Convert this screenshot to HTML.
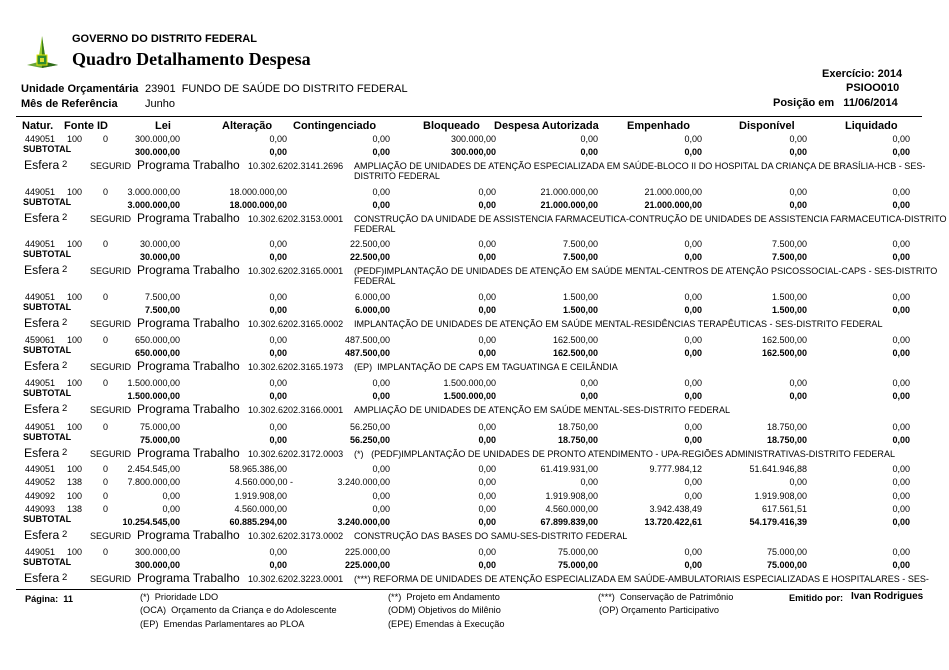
<!DOCTYPE html>
<html><head><meta charset="utf-8"><style>
body{margin:0;background:#fff;}
#p{position:relative;width:949px;height:670px;overflow:hidden;font-family:"Liberation Sans",Arial,sans-serif;color:#000;}
#p div{position:absolute;white-space:nowrap;}
.r{left:0;width:949px;height:13px;font-size:9px;line-height:12px;}
.r span{position:absolute;top:0;}
.b{font-weight:bold;}
.c1{left:80px;width:100px;text-align:right}
.c2{left:187px;width:100px;text-align:right}
.c3{left:290px;width:100px;text-align:right}
.c4{left:396px;width:100px;text-align:right}
.c5{left:498px;width:100px;text-align:right}
.c6{left:602px;width:100px;text-align:right}
.c7{left:707px;width:100px;text-align:right}
.c8{left:810px;width:100px;text-align:right}
.na{left:25px}.fo{left:67px}.id{left:103px}
.st{left:23px;top:-3px !important;font-weight:bold}
.e{left:0;width:949px;height:26px;font-size:9px;line-height:11px;}
.e span{position:absolute;}
.e .l1{left:24px;top:-1px;font-size:12.2px;line-height:15px;}
.e .l2{left:62px;top:0;font-size:9.5px;}
.e .l3{left:90px;top:2px;}
.e .l4{left:137px;top:-1px;font-size:12px;line-height:15px;}
.e .l5{left:248px;top:2px;}
.e .l6{left:354px;top:2px;font-size:9.05px;}
.e .l7{left:354px;top:12px;}
.h{font-size:11px;font-weight:bold;line-height:13px;}
.f{font-size:9.2px;line-height:12px;}
</style></head><body><div id="p">
<svg style="position:absolute;left:24px;top:34px" width="40" height="40" viewBox="0 0 40 40">
<polygon points="18,2 14,28 22,28" fill="#9acd32"/>
<polygon points="18,2 18,28 22,28" fill="#3a7d1a"/>
<polygon points="3,31 18,27 34,31 18,34" fill="#6aa53a"/>
<polygon points="18,27 34,31 18,34" fill="#2f6b1a"/>
<rect x="13" y="21" width="10" height="10" fill="#2e8b2e" stroke="#e6e600" stroke-width="1"/>
<rect x="16" y="24" width="4" height="4" fill="#dddd33"/>
</svg>
<div class="b" style="left:72px;top:33px;font-size:11px;">GOVERNO DO DISTRITO FEDERAL</div>
<div class="b" style="left:72px;top:49px;font-size:18px;font-family:'Liberation Serif',serif;">Quadro Detalhamento Despesa</div>
<div class="b" style="left:822px;top:68px;font-size:11px;">Exercício: 2014</div>
<div class="b" style="left:846px;top:82px;font-size:11px;">PSIOO010</div>
<div class="b" style="left:21px;top:83px;font-size:11px;">Unidade Orçamentária</div>
<div style="left:145px;top:83px;font-size:11px;">23901&nbsp; FUNDO DE SAÚDE DO DISTRITO FEDERAL</div>
<div class="b" style="left:21px;top:98px;font-size:11px;">Mês de Referência</div>
<div class="b" style="left:145px;top:98px;font-size:11px;font-weight:normal">Junho</div>
<div class="b" style="left:773px;top:97px;font-size:11px;">Posição em &nbsp; 11/06/2014</div>
<div style="left:16px;top:116px;width:906px;height:1px;border-top:1.5px solid #000;"></div>
<div class="h" style="left:22px;top:120px;">Natur.</div>
<div class="h" style="left:64px;top:120px;">Fonte</div>
<div class="h" style="left:97px;top:120px;">ID</div>
<div class="h" style="left:155px;top:120px;">Lei</div>
<div class="h" style="left:222px;top:120px;">Alteração</div>
<div class="h" style="left:293px;top:120px;">Contingenciado</div>
<div class="h" style="left:423px;top:120px;">Bloqueado</div>
<div class="h" style="left:494px;top:120px;">Despesa Autorizada</div>
<div class="h" style="left:627px;top:120px;">Empenhado</div>
<div class="h" style="left:739px;top:120px;">Disponível</div>
<div class="h" style="left:845px;top:120px;">Liquidado</div>

<div class="r" style="top:133px"><span class="na">449051</span><span class="fo">100</span><span class="id">0</span><span class="c1">300.000,00</span><span class="c2">0,00</span><span class="c3">0,00</span><span class="c4">300.000,00</span><span class="c5">0,00</span><span class="c6">0,00</span><span class="c7">0,00</span><span class="c8">0,00</span></div>
<div class="r b" style="top:146px"><span class="st">SUBTOTAL</span><span class="c1">300.000,00</span><span class="c2">0,00</span><span class="c3">0,00</span><span class="c4">300.000,00</span><span class="c5">0,00</span><span class="c6">0,00</span><span class="c7">0,00</span><span class="c8">0,00</span></div>
<div class="e" style="top:159px"><span class="l1">Esfera</span><span class="l2">2</span><span class="l3">SEGURID</span><span class="l4">Programa Trabalho</span><span class="l5">10.302.6202.3141.2696</span><span class="l6">AMPLIAÇÃO DE UNIDADES DE ATENÇÃO ESPECIALIZADA EM SAÚDE-BLOCO II DO HOSPITAL DA CRIANÇA DE BRASÍLIA-HCB - SES-</span><span class="l7">DISTRITO FEDERAL</span></div>

<div class="r" style="top:186px"><span class="na">449051</span><span class="fo">100</span><span class="id">0</span><span class="c1">3.000.000,00</span><span class="c2">18.000.000,00</span><span class="c3">0,00</span><span class="c4">0,00</span><span class="c5">21.000.000,00</span><span class="c6">21.000.000,00</span><span class="c7">0,00</span><span class="c8">0,00</span></div>
<div class="r b" style="top:199px"><span class="st">SUBTOTAL</span><span class="c1">3.000.000,00</span><span class="c2">18.000.000,00</span><span class="c3">0,00</span><span class="c4">0,00</span><span class="c5">21.000.000,00</span><span class="c6">21.000.000,00</span><span class="c7">0,00</span><span class="c8">0,00</span></div>
<div class="e" style="top:212px"><span class="l1">Esfera</span><span class="l2">2</span><span class="l3">SEGURID</span><span class="l4">Programa Trabalho</span><span class="l5">10.302.6202.3153.0001</span><span class="l6">CONSTRUÇÃO DA UNIDADE DE ASSISTENCIA FARMACEUTICA-CONTRUÇÃO DE UNIDADES DE ASSISTENCIA FARMACEUTICA-DISTRITO</span><span class="l7">FEDERAL</span></div>

<div class="r" style="top:238px"><span class="na">449051</span><span class="fo">100</span><span class="id">0</span><span class="c1">30.000,00</span><span class="c2">0,00</span><span class="c3">22.500,00</span><span class="c4">0,00</span><span class="c5">7.500,00</span><span class="c6">0,00</span><span class="c7">7.500,00</span><span class="c8">0,00</span></div>
<div class="r b" style="top:251px"><span class="st">SUBTOTAL</span><span class="c1">30.000,00</span><span class="c2">0,00</span><span class="c3">22.500,00</span><span class="c4">0,00</span><span class="c5">7.500,00</span><span class="c6">0,00</span><span class="c7">7.500,00</span><span class="c8">0,00</span></div>
<div class="e" style="top:264px"><span class="l1">Esfera</span><span class="l2">2</span><span class="l3">SEGURID</span><span class="l4">Programa Trabalho</span><span class="l5">10.302.6202.3165.0001</span><span class="l6">(PEDF)IMPLANTAÇÃO DE UNIDADES DE ATENÇÃO EM SAÚDE MENTAL-CENTROS DE ATENÇÃO PSICOSSOCIAL-CAPS - SES-DISTRITO</span><span class="l7">FEDERAL</span></div>

<div class="r" style="top:291px"><span class="na">449051</span><span class="fo">100</span><span class="id">0</span><span class="c1">7.500,00</span><span class="c2">0,00</span><span class="c3">6.000,00</span><span class="c4">0,00</span><span class="c5">1.500,00</span><span class="c6">0,00</span><span class="c7">1.500,00</span><span class="c8">0,00</span></div>
<div class="r b" style="top:304px"><span class="st">SUBTOTAL</span><span class="c1">7.500,00</span><span class="c2">0,00</span><span class="c3">6.000,00</span><span class="c4">0,00</span><span class="c5">1.500,00</span><span class="c6">0,00</span><span class="c7">1.500,00</span><span class="c8">0,00</span></div>
<div class="e" style="top:317px"><span class="l1">Esfera</span><span class="l2">2</span><span class="l3">SEGURID</span><span class="l4">Programa Trabalho</span><span class="l5">10.302.6202.3165.0002</span><span class="l6">IMPLANTAÇÃO DE UNIDADES DE ATENÇÃO EM SAÚDE MENTAL-RESIDÊNCIAS TERAPÊUTICAS - SES-DISTRITO FEDERAL</span></div>

<div class="r" style="top:334px"><span class="na">459061</span><span class="fo">100</span><span class="id">0</span><span class="c1">650.000,00</span><span class="c2">0,00</span><span class="c3">487.500,00</span><span class="c4">0,00</span><span class="c5">162.500,00</span><span class="c6">0,00</span><span class="c7">162.500,00</span><span class="c8">0,00</span></div>
<div class="r b" style="top:347px"><span class="st">SUBTOTAL</span><span class="c1">650.000,00</span><span class="c2">0,00</span><span class="c3">487.500,00</span><span class="c4">0,00</span><span class="c5">162.500,00</span><span class="c6">0,00</span><span class="c7">162.500,00</span><span class="c8">0,00</span></div>
<div class="e" style="top:360px"><span class="l1">Esfera</span><span class="l2">2</span><span class="l3">SEGURID</span><span class="l4">Programa Trabalho</span><span class="l5">10.302.6202.3165.1973</span><span class="l6">(EP)&nbsp; IMPLANTAÇÃO DE CAPS EM TAGUATINGA E CEILÂNDIA</span></div>

<div class="r" style="top:377px"><span class="na">449051</span><span class="fo">100</span><span class="id">0</span><span class="c1">1.500.000,00</span><span class="c2">0,00</span><span class="c3">0,00</span><span class="c4">1.500.000,00</span><span class="c5">0,00</span><span class="c6">0,00</span><span class="c7">0,00</span><span class="c8">0,00</span></div>
<div class="r b" style="top:390px"><span class="st">SUBTOTAL</span><span class="c1">1.500.000,00</span><span class="c2">0,00</span><span class="c3">0,00</span><span class="c4">1.500.000,00</span><span class="c5">0,00</span><span class="c6">0,00</span><span class="c7">0,00</span><span class="c8">0,00</span></div>
<div class="e" style="top:403px"><span class="l1">Esfera</span><span class="l2">2</span><span class="l3">SEGURID</span><span class="l4">Programa Trabalho</span><span class="l5">10.302.6202.3166.0001</span><span class="l6">AMPLIAÇÃO DE UNIDADES DE ATENÇÃO EM SAÚDE MENTAL-SES-DISTRITO FEDERAL</span></div>

<div class="r" style="top:421px"><span class="na">449051</span><span class="fo">100</span><span class="id">0</span><span class="c1">75.000,00</span><span class="c2">0,00</span><span class="c3">56.250,00</span><span class="c4">0,00</span><span class="c5">18.750,00</span><span class="c6">0,00</span><span class="c7">18.750,00</span><span class="c8">0,00</span></div>
<div class="r b" style="top:434px"><span class="st">SUBTOTAL</span><span class="c1">75.000,00</span><span class="c2">0,00</span><span class="c3">56.250,00</span><span class="c4">0,00</span><span class="c5">18.750,00</span><span class="c6">0,00</span><span class="c7">18.750,00</span><span class="c8">0,00</span></div>
<div class="e" style="top:447px"><span class="l1">Esfera</span><span class="l2">2</span><span class="l3">SEGURID</span><span class="l4">Programa Trabalho</span><span class="l5">10.302.6202.3172.0003</span><span class="l6">(*)&nbsp;&nbsp; (PEDF)IMPLANTAÇÃO DE UNIDADES DE PRONTO ATENDIMENTO - UPA-REGIÕES ADMINISTRATIVAS-DISTRITO FEDERAL</span></div>

<div class="r" style="top:463px"><span class="na">449051</span><span class="fo">100</span><span class="id">0</span><span class="c1">2.454.545,00</span><span class="c2">58.965.386,00</span><span class="c3">0,00</span><span class="c4">0,00</span><span class="c5">61.419.931,00</span><span class="c6">9.777.984,12</span><span class="c7">51.641.946,88</span><span class="c8">0,00</span></div>
<div class="r" style="top:476px"><span class="na">449052</span><span class="fo">138</span><span class="id">0</span><span class="c1">7.800.000,00</span><span class="c2" style="width:106px">4.560.000,00 -</span><span class="c3">3.240.000,00</span><span class="c4">0,00</span><span class="c5">0,00</span><span class="c6">0,00</span><span class="c7">0,00</span><span class="c8">0,00</span></div>
<div class="r" style="top:490px"><span class="na">449092</span><span class="fo">100</span><span class="id">0</span><span class="c1">0,00</span><span class="c2">1.919.908,00</span><span class="c3">0,00</span><span class="c4">0,00</span><span class="c5">1.919.908,00</span><span class="c6">0,00</span><span class="c7">1.919.908,00</span><span class="c8">0,00</span></div>
<div class="r" style="top:503px"><span class="na">449093</span><span class="fo">138</span><span class="id">0</span><span class="c1">0,00</span><span class="c2">4.560.000,00</span><span class="c3">0,00</span><span class="c4">0,00</span><span class="c5">4.560.000,00</span><span class="c6">3.942.438,49</span><span class="c7">617.561,51</span><span class="c8">0,00</span></div>
<div class="r b" style="top:516px"><span class="st">SUBTOTAL</span><span class="c1">10.254.545,00</span><span class="c2">60.885.294,00</span><span class="c3">3.240.000,00</span><span class="c4">0,00</span><span class="c5">67.899.839,00</span><span class="c6">13.720.422,61</span><span class="c7">54.179.416,39</span><span class="c8">0,00</span></div>
<div class="e" style="top:529px"><span class="l1">Esfera</span><span class="l2">2</span><span class="l3">SEGURID</span><span class="l4">Programa Trabalho</span><span class="l5">10.302.6202.3173.0002</span><span class="l6">CONSTRUÇÃO DAS BASES DO SAMU-SES-DISTRITO FEDERAL</span></div>

<div class="r" style="top:546px"><span class="na">449051</span><span class="fo">100</span><span class="id">0</span><span class="c1">300.000,00</span><span class="c2">0,00</span><span class="c3">225.000,00</span><span class="c4">0,00</span><span class="c5">75.000,00</span><span class="c6">0,00</span><span class="c7">75.000,00</span><span class="c8">0,00</span></div>
<div class="r b" style="top:559px"><span class="st">SUBTOTAL</span><span class="c1">300.000,00</span><span class="c2">0,00</span><span class="c3">225.000,00</span><span class="c4">0,00</span><span class="c5">75.000,00</span><span class="c6">0,00</span><span class="c7">75.000,00</span><span class="c8">0,00</span></div>
<div class="e" style="top:572px"><span class="l1">Esfera</span><span class="l2">2</span><span class="l3">SEGURID</span><span class="l4">Programa Trabalho</span><span class="l5">10.302.6202.3223.0001</span><span class="l6">(***) REFORMA DE UNIDADES DE ATENÇÃO ESPECIALIZADA EM SAÚDE-AMBULATORIAIS ESPECIALIZADAS E HOSPITALARES - SES-</span></div>

<div style="left:16px;top:589px;width:906px;height:1px;border-top:1.5px solid #000;"></div>
<div class="f b" style="left:25px;top:593px;">Página:&nbsp; 11</div>
<div class="f" style="left:140px;top:591px;">(*)&nbsp; Prioridade LDO</div>
<div class="f" style="left:140px;top:604px;">(OCA)&nbsp; Orçamento da Criança e do Adolescente</div>
<div class="f" style="left:140px;top:618px;">(EP)&nbsp; Emendas Parlamentares ao PLOA</div>
<div class="f" style="left:388px;top:591px;">(**)&nbsp; Projeto em Andamento</div>
<div class="f" style="left:388px;top:604px;">(ODM) Objetivos do Milênio</div>
<div class="f" style="left:388px;top:618px;">(EPE) Emendas à Execução</div>
<div class="f" style="left:598px;top:591px;">(***)&nbsp; Conservação de Patrimônio</div>
<div class="f" style="left:599px;top:604px;">(OP) Orçamento Participativo</div>
<div class="f b" style="left:789px;top:592px;">Emitido por:</div>
<div class="f b" style="left:851px;top:591px;font-size:10px;">Ivan Rodrigues</div>
</div></body></html>
